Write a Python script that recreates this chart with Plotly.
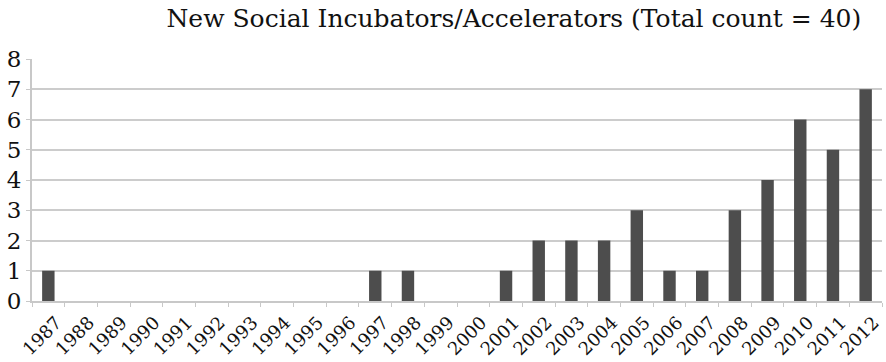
import plotly.graph_objects as go

# Yearly counts of newly founded social incubators/accelerators
years = [str(y) for y in range(1987, 2013)]
counts = [1, 0, 0, 0, 0, 0, 0, 0, 0, 0, 1, 1, 0, 0, 1, 2, 2, 2, 3, 1, 1, 3, 4, 6, 5, 7]
y_ticks = list(range(0, 9))

serif = "DejaVu Serif, Liberation Serif, serif"
ink = "#111111"

fig = go.Figure(
    go.Bar(
        x=years,
        y=counts,
        marker=dict(color="#4d4d4d", line=dict(width=0)),
    )
)

fig.update_layout(
    width=886,
    height=362,
    margin=dict(l=32, r=4, t=59, b=61),
    paper_bgcolor="white",
    plot_bgcolor="white",
    bargap=0.62,
    showlegend=False,
    title=dict(
        text="New Social Incubators/Accelerators (Total count = 40)",
        x=0.58,
        xanchor="center",
        y=0.95,
        yanchor="middle",
        font=dict(family=serif, size=25, color=ink),
    ),
    font=dict(family=serif, color=ink),
)

fig.update_xaxes(
    type="category",
    tickangle=-45,
    tickfont=dict(family=serif, size=18, color=ink),
    ticks="outside",
    tickson="boundaries",
    ticklen=4,
    tickcolor="#c8c8c8",
    ticklabelstandoff=2,
    ticklabelshift=8,
    showline=True,
    linecolor="#c8c8c8",
    linewidth=2,
    showgrid=False,
    automargin=False,
)

fig.update_yaxes(
    range=[0, 8],
    tickvals=y_ticks,
    tickfont=dict(family=serif, size=23, color=ink),
    ticks="outside",
    ticklen=4,
    tickcolor="#c8c8c8",
    showline=True,
    linecolor="#c8c8c8",
    linewidth=2,
    showgrid=True,
    gridcolor="#cccccc",
    gridwidth=2,
    zeroline=False,
    automargin=False,
)

fig.write_html("out.html")
